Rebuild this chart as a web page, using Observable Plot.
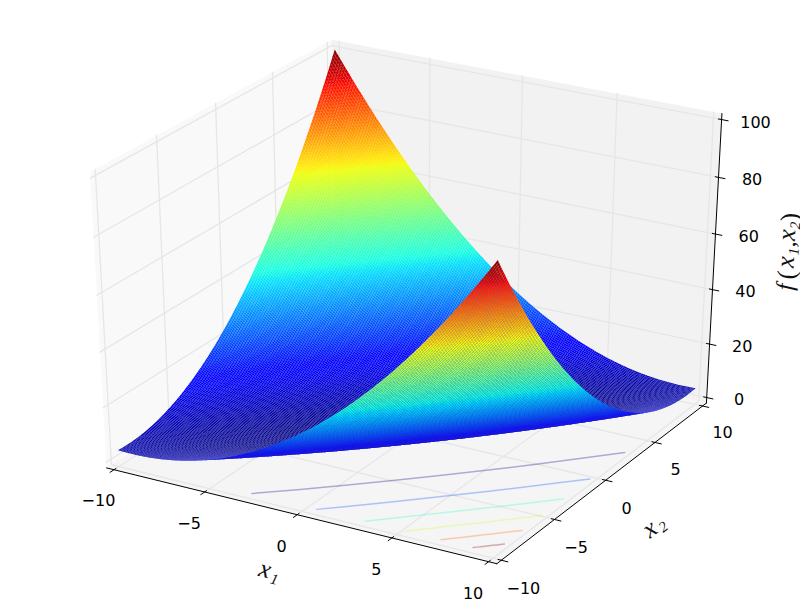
<!DOCTYPE html>
<html>
<head>
<meta charset="utf-8">
<style>html,body{margin:0;padding:0;background:#fff}svg{display:block}</style>
<script src="https://cdn.jsdelivr.net/npm/d3@7"></script>
<script src="https://cdn.jsdelivr.net/npm/@observablehq/plot@0.6"></script>
</head>
<body>
<div id="chart"></div>
<script>
// axis limits and tick values
const limitsX1 = [-10, 10];
const limitsX2 = [-10, 10];
const limitsF = [0, 100];
const ticksX1 = [-10, -5, 0, 5, 10];
const ticksX2 = [-10, -5, 0, 5, 10];
const ticksF = [0, 20, 40, 60, 80, 100];
const gridSteps = 200; // surface cells per side

// height contributed by |x1-x2| and by |x1+x2|, at steps of 0.1
const diffTerm = [0,.0025,.01,.0225,.04,.0625,.09,.1225,.16,.2025,.25,.3025,.36,.4225,.49,.5625,.64,.7225,.81,.9025,1,1.1025,1.21,1.3225,1.44,1.5625,1.69,1.8225,1.96,2.1025,2.25,2.4025,2.56,2.7225,2.89,3.0625,3.24,3.4225,3.61,3.8025,4,4.2025,4.41,4.6225,4.84,5.0625,5.29,5.5225,5.76,6.0025,6.25,6.5025,6.76,7.0225,7.29,7.5625,7.84,8.1225,8.41,8.7025,9,9.3025,9.61,9.9225,10.24,10.5625,10.89,11.2225,11.56,11.9025,12.25,12.6025,12.96,13.3225,13.69,14.0625,14.44,14.8225,15.21,15.6025,16,16.4025,16.81,17.2225,17.64,18.0625,18.49,18.9225,19.36,19.8025,20.25,20.7025,21.16,21.6225,22.09,22.5625,23.04,23.5225,24.01,24.5025,25,25.5025,26.01,26.5225,27.04,27.5625,28.09,28.6225,29.16,29.7025,30.25,30.8025,31.36,31.9225,32.49,33.0625,33.64,34.2225,34.81,35.4025,36,36.6025,37.21,37.8225,38.44,39.0625,39.69,40.3225,40.96,41.6025,42.25,42.9025,43.56,44.2225,44.89,45.5625,46.24,46.9225,47.61,48.3025,49,49.7025,50.41,51.1225,51.84,52.5625,53.29,54.0225,54.76,55.5025,56.25,57.0025,57.76,58.5225,59.29,60.0625,60.84,61.6225,62.41,63.2025,64,64.8025,65.61,66.4225,67.24,68.0625,68.89,69.7225,70.56,71.4025,72.25,73.1025,73.96,74.8225,75.69,76.5625,77.44,78.3225,79.21,80.1025,81,81.9025,82.81,83.7225,84.64,85.5625,86.49,87.4225,88.36,89.3025,90.25,91.2025,92.16,93.1225,94.09,95.0625,96.04,97.0225,98.01,99.0025,100];
const sumTerm = [0,.0001,.0004,.0009,.0016,.0025,.0036,.0049,.0064,.0081,.01,.0121,.0144,.0169,.0196,.0225,.0256,.0289,.0324,.0361,.04,.0441,.0484,.0529,.0576,.0625,.0676,.0729,.0784,.0841,.09,.0961,.1024,.1089,.1156,.1225,.1296,.1369,.1444,.1521,.16,.1681,.1764,.1849,.1936,.2025,.2116,.2209,.2304,.2401,.25,.2601,.2704,.2809,.2916,.3025,.3136,.3249,.3364,.3481,.36,.3721,.3844,.3969,.4096,.4225,.4356,.4489,.4624,.4761,.49,.5041,.5184,.5329,.5476,.5625,.5776,.5929,.6084,.6241,.64,.6561,.6724,.6889,.7056,.7225,.7396,.7569,.7744,.7921,.81,.8281,.8464,.8649,.8836,.9025,.9216,.9409,.9604,.9801,1,1.0201,1.0404,1.0609,1.0816,1.1025,1.1236,1.1449,1.1664,1.1881,1.21,1.2321,1.2544,1.2769,1.2996,1.3225,1.3456,1.3689,1.3924,1.4161,1.44,1.4641,1.4884,1.5129,1.5376,1.5625,1.5876,1.6129,1.6384,1.6641,1.69,1.7161,1.7424,1.7689,1.7956,1.8225,1.8496,1.8769,1.9044,1.9321,1.96,1.9881,2.0164,2.0449,2.0736,2.1025,2.1316,2.1609,2.1904,2.2201,2.25,2.2801,2.3104,2.3409,2.3716,2.4025,2.4336,2.4649,2.4964,2.5281,2.56,2.5921,2.6244,2.6569,2.6896,2.7225,2.7556,2.7889,2.8224,2.8561,2.89,2.9241,2.9584,2.9929,3.0276,3.0625,3.0976,3.1329,3.1684,3.2041,3.24,3.2761,3.3124,3.3489,3.3856,3.4225,3.4596,3.4969,3.5344,3.5721,3.61,3.6481,3.6864,3.7249,3.7636,3.8025,3.8416,3.8809,3.9204,3.9601,4];

// floor contours: colour position, x1+x2 and x1-x2 along the near branch
const contourShades = [0, 20, 40, 60, 80, 100];
const contourSums = [
  [0,3.17,6.34,9.51,12.68],[0,2.3,4.6,6.9,9.2],[0,1.66,3.33,4.99,6.65],
  [0,1.13,2.27,3.4,4.535],[0,.67,1.34,2.02,2.688],[0,.26,.52,.77,1.03]];
const contourDiffs = [
  [7.746,7.72,7.642,7.509,7.319],[10.954,10.945,10.916,10.867,10.799],[13.416,13.412,13.4,13.379,13.35],
  [15.492,15.491,15.485,15.477,15.465],[17.321,17.32,17.318,17.315,17.312],[18.974,18.974,18.973,18.973,18.972]];

// jet colour map
const jetStops = [0,11,12.5,34,35,37.5,64,65,66,89,91,100];
const jetColors = ["#00007f","#0000ff","#0000ff","#00dbff","#00e6f7","#15ffe2","#eeff08","#f7f600","#ffec00","#ff1300","#e80000","#7f0000"];

// view: elevation 30, azimuth -60, distance 10
const viewU = [Math.sqrt(3)/2, 0.5, 0];
const viewV = [-0.25, Math.sqrt(3)/4, Math.sqrt(3)/2];
const viewN = [Math.sqrt(3)/4, -0.75, 0.5];
const viewDist = 10;
const viewLimits = [-0.095, 0.09];

const spanX1 = limitsX1[1]-limitsX1[0], spanX2 = limitsX2[1]-limitsX2[0], spanF = limitsF[1]-limitsF[0];
function project(a, b, c) {
  const w = [(a-limitsX1[0])/spanX1-.5, (b-limitsX2[0])/spanX2-.5, (c-limitsF[0])/spanF-.5];
  const dot = (p) => p[0]*w[0]+p[1]*w[1]+p[2]*w[2];
  const depth = viewDist-dot(viewN);
  return {px: dot(viewU)/depth, py: dot(viewV)/depth, depth};
}
// box margins of 1/48 of the range
const xLo = limitsX1[0]-spanX1/48, xHi = limitsX1[1]+spanX1/48;
const yLo = limitsX2[0]-spanX2/48, yHi = limitsX2[1]+spanX2/48;
const zLo = limitsF[0]-spanF/48, zHi = limitsF[1]+spanF/48;

// surface
const step = spanX1/gridSteps;
const cellZ = (i, j) => diffTerm[Math.abs(i-j)] + sumTerm[Math.abs(i+j-gridSteps)];
const cells = [];
for (let i = 0; i < gridSteps; ++i) for (let j = 0; j < gridSteps; ++j) {
  const corners = [[i,j],[i+1,j],[i+1,j+1],[i,j+1]].map(([a,b]) =>
    project(limitsX1[0]+a*step, limitsX2[0]+b*step, cellZ(a,b)));
  cells.push({
    corners,
    depth: d3.mean(corners, d => d.depth),
    shade: d3.mean([[i,j],[i+1,j],[i+1,j+1],[i,j+1]], ([a,b]) => cellZ(a,b))
  });
}
cells.sort((a, b) => b.depth - a.depth);
const surface = cells.flatMap((c, k) => c.corners.map(p => ({...p, cell: k, shade: c.shade})));

// contours
const contours = contourShades.flatMap((shade, k) => {
  const s = contourSums[k], d = contourDiffs[k];
  const idx = [4,3,2,1,0,1,2,3,4];
  return idx.map((q, n) => {
    const sv = n < 4 ? -s[q] : s[q];
    return {...project((sv+d[q])/2, (sv-d[q])/2, limitsF[0]), level: k, shade};
  });
});

// panes
const polygon = (pts) => pts.map(p => project(...p));
const paneLeft = polygon([[xLo,yLo,zLo],[xLo,yHi,zLo],[xLo,yHi,zHi],[xLo,yLo,zHi]]);
const paneBack = polygon([[xLo,yHi,zLo],[xHi,yHi,zLo],[xHi,yHi,zHi],[xLo,yHi,zHi]]);
const paneFloor = polygon([[xLo,yLo,zLo],[xHi,yLo,zLo],[xHi,yHi,zLo],[xLo,yHi,zLo]]);

// grid lines
const gridLines = [
  ...ticksX1.map(v => [[v,yLo,zLo],[v,yHi,zLo],[v,yHi,zHi]]),
  ...ticksX2.map(v => [[xHi,v,zLo],[xLo,v,zLo],[xLo,v,zHi]]),
  ...ticksF.map(v => [[xHi,yHi,v],[xLo,yHi,v],[xLo,yLo,v]])
].flatMap((line, k) => line.map(p => ({...project(...p), line: k})));

// axis lines
const axisLines = [
  [[xLo,yLo,zLo],[xHi,yLo,zLo]],
  [[xHi,yLo,zLo],[xHi,yHi,zLo]],
  [[xHi,yHi,zLo],[xHi,yHi,zHi]]
].flatMap((line, k) => line.map(p => ({...project(...p), line: k})));

// tick marks
const tickOut = 0.2/12, tickIn = 0.1/12;
const tickLines = [
  ...ticksX1.map(v => [[v,yLo-tickOut*spanX2,zLo],[v,yLo+tickIn*spanX2,zLo]]),
  ...ticksX2.map(v => [[xHi+tickOut*spanX1,v,zLo],[xHi-tickIn*spanX1,v,zLo]]),
  ...ticksF.map(v => [[xHi+tickOut*spanX1,yHi,v],[xHi-tickIn*spanX1,yHi,v]])
].flatMap((line, k) => line.map(p => ({...project(...p), line: k})));

// tick labels
const fmt = v => String(v).replace("-", "\u2212");
const tickOffset = 0.07, tickOffsetF = 0.058;
const labelX1 = ticksX1.map(v => ({...project(v, yLo-tickOffset*spanX2, zLo-tickOffset*spanF), text: fmt(v)}));
const labelX2 = ticksX2.map(v => ({...project(xHi+tickOffset*spanX1, v, zLo-tickOffset*spanF), text: fmt(v)}));
const labelF = ticksF.map(v => ({...project(xHi+tickOffsetF*spanX1, yHi+tickOffsetF*spanX2, v), text: fmt(v)}));

// axis titles set from italic letters and subscripts, each part placed along the rotated baseline
const titleOffset = 0.135;
const titleAnchors = {
  x1: project(0, yLo-titleOffset*spanX2, zLo-titleOffset*spanF),
  x2: project(xHi+titleOffset*spanX1, 0, zLo-titleOffset*spanF),
  f: project(xHi+titleOffset*spanX1, yHi+titleOffset*spanX2, 50)
};
const partsX1 = [["x",-3,-3.5,26,"italic"],["1",8.5,4,15,"italic"]];
const partsX2 = [["x",-5,-4,26,"italic"],["2",7,3,15,"italic"]];
const partsF = [["f",-33,-4,24,"italic"],["(",-21,-3,26,"normal"],["x",-8,-5,26,"italic"],["1",3,3,15,"italic"],[",",10,-4,24,"italic"],["x",19,-5,26,"italic"],["2",29,3,15,"italic"],[")",37,-3,26,"normal"]];
function titleMarks(anchor, parts, rotate) {
  const t = rotate*Math.PI/180;
  return parts.map(([text, fx, fy, size, style]) => Plot.text([anchor], {
    x: "px", y: "py", text: () => text, rotate,
    dx: fx*Math.cos(t)-fy*Math.sin(t), dy: fx*Math.sin(t)+fy*Math.cos(t),
    fontFamily: "Liberation Serif", fontStyle: style, fontSize: size, fill: "#111"
  }));
}

const paneMark = (data, fill) => Plot.line(data, {x: "px", y: "py", fill, stroke: "none", curve: "linear-closed"});
const tickFont = {x: "px", y: "py", text: "text", fontFamily: "DejaVu Sans", fontSize: 16, fill: "#000"};

const chart = Plot.plot({
  width: 800, height: 600,
  marginTop: 0, marginRight: 0, marginBottom: 0, marginLeft: 0,
  style: {background: "#fff"},
  x: {domain: viewLimits, range: [0, 800], axis: null},
  y: {domain: viewLimits, range: [600, 0], axis: null},
  color: {type: "linear", domain: jetStops, range: jetColors},
  marks: [
    paneMark(paneLeft, "#f9f9f9"),
    paneMark(paneBack, "#f2f2f2"),
    paneMark(paneFloor, "#f5f5f5"),
    Plot.line(gridLines, {x: "px", y: "py", z: "line", stroke: "#e6e6e6", strokeWidth: 1.3}),
    Plot.line(axisLines, {x: "px", y: "py", z: "line", stroke: "#000", strokeWidth: 1}),
    Plot.line(tickLines, {x: "px", y: "py", z: "line", stroke: "#000", strokeWidth: 1}),
    Plot.line(contours, {x: "px", y: "py", z: "level", stroke: "shade", strokeOpacity: 0.3, strokeWidth: 1.5}),
    Plot.line(surface, {x: "px", y: "py", z: "cell", fill: "shade", stroke: "none", curve: "linear-closed"}),
    Plot.text(labelX1, {...tickFont, dy: 1.5}),
    Plot.text(labelX2, {...tickFont, dx: -5, dy: 3}),
    Plot.text(labelF, {...tickFont, dy: 6}),
    ...titleMarks(titleAnchors.x1, partsX1, 14.2),
    ...titleMarks(titleAnchors.x2, partsX2, -37.4),
    ...titleMarks(titleAnchors.f, partsF, -86.9)
  ]
});
document.getElementById("chart").append(chart);
</script>
</body>
</html>
